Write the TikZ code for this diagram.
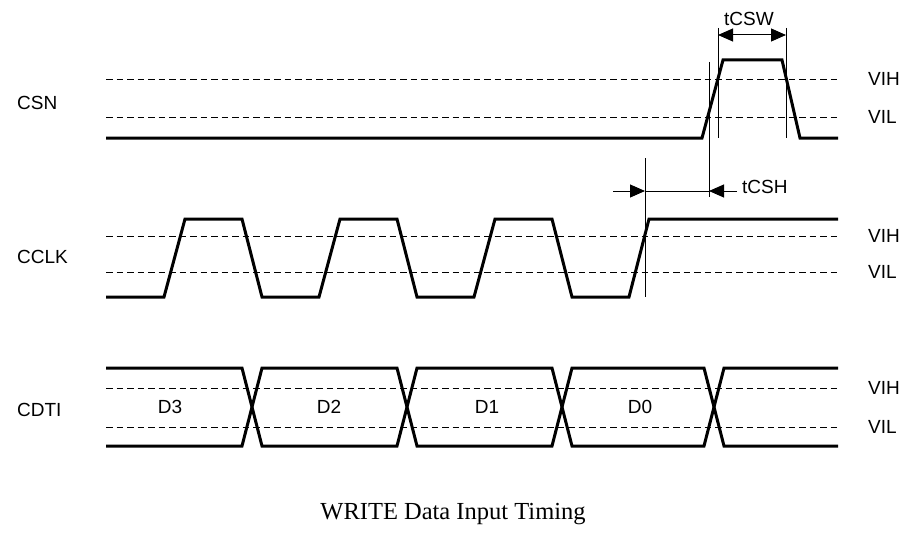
\documentclass[tikz,border=0pt]{standalone}
\usepackage{fontspec}
\setmainfont{Liberation Sans}
\newfontfamily\captionserif{Liberation Serif}
\usetikzlibrary{arrows.meta, positioning}
\tikzset{
  sig/.style={line width=3pt, line join=miter},
  lvl/.style={line width=1pt, dash pattern=on 6.5pt off 4pt},
  tick/.style={line width=1pt},
  dimarrow/.style={line width=1pt, -{Triangle[length=15pt, width=13pt]}},
  dimboth/.style={line width=1pt, {Triangle[length=15pt, width=13pt]}-{Triangle[length=15pt, width=13pt]}},
  lbl/.style={anchor=west, inner sep=0pt, font=\fontsize{19}{22}\selectfont},
}

\begin{document}
\begin{tikzpicture}[x=1pt, y=-1pt]
  \useasboundingbox (0,0) rectangle (907,535);

  % Threshold levels
  \foreach \y in {79, 117, 236, 272, 388, 427}
    \draw[lvl] (106,\y) -- (838,\y);

  % CSN
  \draw[sig] (106,138) -- (702,138) -- (723,60) -- (782,60) -- (800,138) -- (838,138);

  % CCLK
  \draw[sig] (106,297)
    \foreach \r in {164, 319, 474} { -- (\r,297) -- (\r+21,219) -- (\r+78,219) -- (\r+98,297) }
    -- (629,297) -- (649,219) -- (838,219);

  % CDTI
  \draw[sig] (106,368) -- (242,368) -- (262,446) -- (397,446) -- (417,368) -- (552,368)
    -- (572,446) -- (704,446) -- (724,368) -- (838,368);
  \draw[sig] (106,446) -- (242,446) -- (262,368) -- (397,368) -- (417,446) -- (552,446)
    -- (572,368) -- (704,368) -- (724,446) -- (838,446);
  \foreach \x/\d in {170/D3, 329/D2, 487/D1, 640/D0}
    \node[lbl, anchor=center] (bit\d) at (\x,407) {\d};

  % Signal names
  \node[lbl] (csn) at (17,103) {CSN};
  \node[lbl] (cclk) at (17,257) {CCLK};
  \node[lbl] (cdti) at (17,410) {CDTI};

  % Levels
  \foreach \n/\y/\v in {csnh/79/VIH, csnl/117/VIL, clkh/236/VIH, clkl/272/VIL, dtih/388/VIH, dtil/427/VIL}
    \node[lbl] (\n) at (868,\y) {\v};

  % tCSW
  \coordinate (swa) at (718,28);
  \coordinate (swb) at (786,28);
  \draw[tick] (swa) -- (718,138);
  \draw[tick] (swb) -- (786,138);
  \draw[dimboth] ([yshift=-7pt]swa) -- ([yshift=-7pt]swb);
  \node[lbl, anchor=center] (tcsw) at (749,19) {tCSW};

  % tCSH
  \coordinate (sha) at (645,158);
  \coordinate (shb) at (709,62);
  \draw[tick] (sha) -- (645,297);
  \draw[tick] (shb) -- (709,197);
  \coordinate (sh1) at (613,191);
  \coordinate (sh2) at (645,191);
  \coordinate (sh3) at (709,191);
  \coordinate (sh4) at (737,191);
  \draw[dimarrow] (sh1) -- (sh2);
  \draw[tick] (sh2) -- (sh3);
  \draw[dimarrow] (sh4) -- (sh3);
  \node[lbl] (tcsh) at (742,187) {tCSH};

  % Caption
  \node[font=\captionserif\fontsize{24.5}{28}\selectfont] (caption) at (453,514) {WRITE Data Input Timing};
\end{tikzpicture}
\end{document}
